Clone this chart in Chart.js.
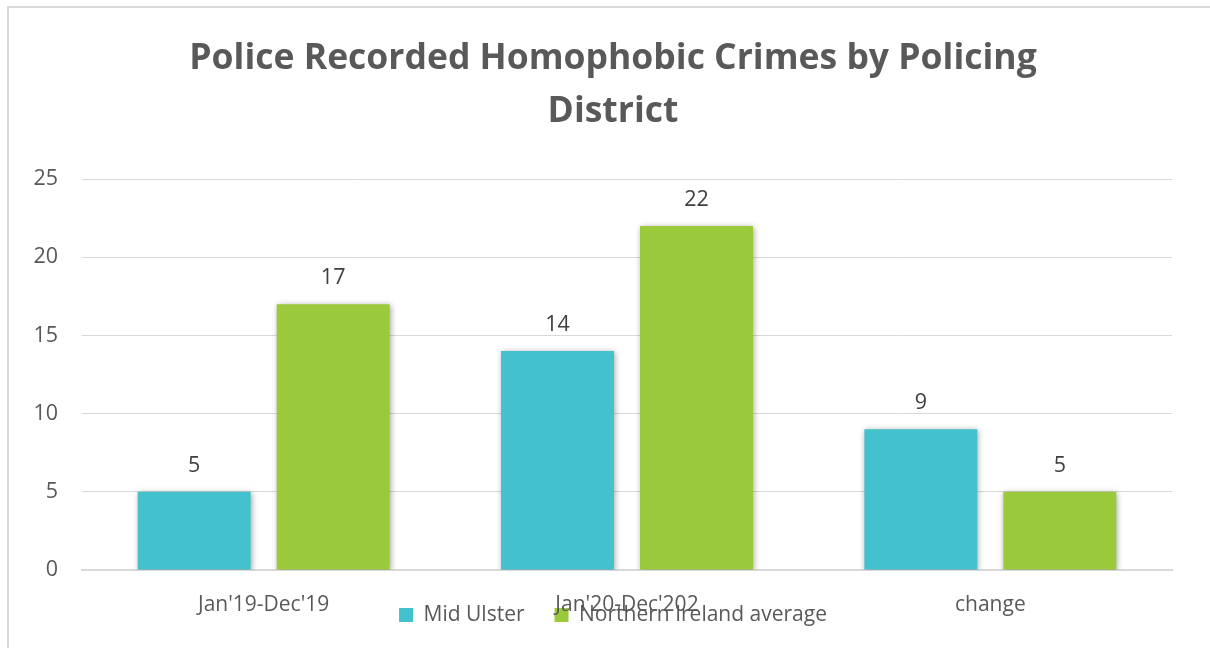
<!DOCTYPE html>
<html>
<head>
<meta charset="utf-8">
<script src="https://cdn.jsdelivr.net/npm/chart.js@4.4.1/dist/chart.umd.min.js"></script>
<style>
  html, body { margin: 0; padding: 0; overflow: hidden; background: #fff; width: 1210px; height: 648px; }
  #frame {
    position: absolute; left: 7px; top: 6px;
    width: 1201px; height: 640px;
    border-left: 2px solid #d9d9d9;
    border-top: 2px solid #d9d9d9;
  }
  #wrap { position: absolute; left: 7px; top: 6px; width: 1203px; height: 642px; }
</style>
</head>
<body>
<div id="frame"></div>
<div id="wrap"><canvas id="crimeChart"></canvas></div>
<script>
// chart data
const categories = ["Jan'19-Dec'19", "Jan'20-Dec'202", "change"];
const midUlster = [5, 14, 9];
const niAverage = [17, 22, 5];
const seriesNames = ['Mid Ulster', 'Northern Ireland average'];
const yTicks = [0, 5, 10, 15, 20, 25];

const textColor = '#595959';
const fontName = "'Open Sans', 'Liberation Sans', sans-serif";

// soft shadow behind the bars
const barShadow = {
    id: 'barShadow',
    beforeDatasetsDraw(chart) {
        const ctx = chart.ctx;
        ctx.save();
        ctx.shadowColor = 'rgba(0,0,0,0.35)';
        ctx.shadowBlur = 6;
        ctx.shadowOffsetX = 1;
        ctx.shadowOffsetY = 1;
    },
    afterDatasetsDraw(chart) {
        chart.ctx.restore();
    }
};

// value labels above each bar
const valueLabels = {
    id: 'valueLabels',
    afterDatasetsDraw(chart) {
        const ctx = chart.ctx;
        ctx.save();
        ctx.font = '21.5px ' + fontName;
        ctx.fillStyle = '#404040';
        ctx.textAlign = 'center';
        ctx.textBaseline = 'middle';
        chart.data.datasets.forEach((ds, i) => {
            chart.getDatasetMeta(i).data.forEach((bar, j) => {
                ctx.fillText(ds.data[j], bar.x, bar.y - 26);
            });
        });
        ctx.restore();
    }
};

// the legend sits up against the category labels, as in the original
const liftLegend = {
    id: 'liftLegend',
    afterLayout(chart) {
        const lg = chart.legend;
        const h = lg.height;
        lg.top = chart.chartArea.bottom + 35 - h / 2;
        lg.bottom = lg.top + h;
    }
};

new Chart(document.getElementById('crimeChart'), {
    type: 'bar',
    data: {
        labels: categories,
        datasets: [{
            label: seriesNames[0],
            data: midUlster,
            backgroundColor: '#43c1cc'
        }, {
            label: seriesNames[1],
            data: niAverage,
            backgroundColor: '#9bc93c'
        }]
    },
    options: {
        responsive: true,
        maintainAspectRatio: false,
        animation: false,
        categoryPercentage: 0.765,
        barPercentage: 0.813,
        layout: { padding: { left: 9, right: 0, bottom: -31 } },
        scales: {
            y: {
                min: 0,
                max: 25,
                afterBuildTicks(scale) {
                    scale.ticks = yTicks.map(v => ({ value: v }));
                },
                afterFit(scale) {
                    scale.width = 66;
                },
                grid: { color: '#d9d9d9', drawTicks: false },
                border: { display: false },
                ticks: {
                    padding: 24,
                    color: textColor,
                    font: { family: fontName, size: 21.5 }
                }
            },
            // empty right-hand axis, only keeps room on the right
            yRight: {
                position: 'right',
                grid: { display: false },
                border: { display: false },
                ticks: { display: false },
                afterFit(scale) {
                    scale.width = 38;
                }
            },
            x: {
                grid: { display: false, drawTicks: false },
                border: { color: '#d9d9d9', width: 2 },
                ticks: {
                    padding: 22,
                    color: textColor,
                    font: { family: fontName, size: 21 }
                },
                afterFit(scale) {
                    scale.height = 48;
                }
            }
        },
        plugins: {
            title: {
                display: true,
                text: ['Police Recorded Homophobic Crimes by Policing', 'District'],
                color: textColor,
                font: { family: fontName, size: 35.5, weight: 'bold', lineHeight: 1.48 },
                padding: { top: 27, bottom: 41 }
            },
            legend: {
                position: 'bottom',
                labels: {
                    boxWidth: 14,
                    boxHeight: 14,
                    padding: 30,
                    color: textColor,
                    font: { family: fontName, size: 21 }
                }
            },
            tooltip: { enabled: false }
        }
    },
    plugins: [barShadow, valueLabels, liftLegend]
});
</script>
</body>
</html>
